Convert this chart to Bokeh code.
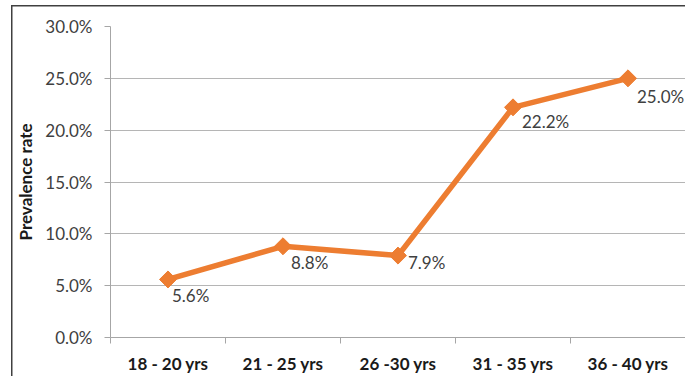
import math
from bokeh.plotting import figure
from bokeh.models import (ColumnDataSource, FixedTicker, PrintfTickFormatter,
                          Range1d, LabelSet)
from bokeh.core.properties import value
from bokeh.embed import file_html
from bokeh.resources import INLINE

# ---- data ----
categories = ["18 - 20 yrs", "21 - 25 yrs", "26 -30 yrs", "31 - 35 yrs", "36 - 40 yrs"]
prevalence = [5.6, 8.8, 7.9, 22.2, 25.0]
y_ticks = [0, 5, 10, 15, 20, 25, 30]

# label placement (style, not data)
label_dx = [4, 8, 10, 9, 9]
label_dy = [-16, -16, -7, -14, -18]

xs = list(range(len(categories)))
src = ColumnDataSource(dict(
    x=xs, y=prevalence,
    txt=["{:.1f}%".format(v) for v in prevalence],
    dx=label_dx, dy=label_dy,
))

p = figure(width=685, height=376, output_backend="svg", toolbar_location=None,
           x_range=Range1d(-0.5, len(categories) - 0.5), y_range=Range1d(0, 30),
           min_border_left=110, min_border_right=0, min_border_top=26,
           min_border_bottom=39)
p.outline_line_color = None
p.background_fill_color = "white"
p.border_fill_color = None
# outer chart frame (left and top edges visible, rest beyond the window)
p.styles = {
    "background": ("linear-gradient(#404040,#404040) 11px 5px / 1.5px 100% no-repeat, "
                   "linear-gradient(#404040,#404040) 11px 5px / 100% 1.5px no-repeat, white"),
}

# grid
p.xgrid.grid_line_color = None
p.ygrid.grid_line_color = "#b5b5b5"
p.ygrid.grid_line_width = 1

# y axis
p.yaxis.ticker = FixedTicker(ticks=y_ticks)
p.yaxis.formatter = PrintfTickFormatter(format="%.1f%%")
p.yaxis.axis_line_color = "#a6a6a6"
p.yaxis.major_tick_line_color = "#a6a6a6"
p.yaxis.major_tick_out = 6
p.yaxis.major_tick_in = 0
p.yaxis.minor_tick_line_color = None
p.yaxis.major_label_standoff = 12
p.yaxis.major_label_text_font = "Lato"
p.yaxis.major_label_text_font_size = "17px"
p.yaxis.major_label_text_color = "#404040"
p.yaxis.axis_label = "Prevalence rate"
p.yaxis.axis_label_text_font = "Lato"
p.yaxis.axis_label_text_font_style = "bold"
p.yaxis.axis_label_text_font_size = "17px"
p.yaxis.axis_label_text_color = "#1a1a1a"
p.yaxis.axis_label_standoff = 6

# x axis: category labels at centers, tick marks at boundaries
p.xaxis.ticker = FixedTicker(ticks=xs, minor_ticks=[i - 0.5 for i in range(len(categories) + 1)])
p.xaxis.major_label_overrides = {i: c for i, c in enumerate(categories)}
p.xaxis.axis_line_color = "#a6a6a6"
p.xaxis.major_tick_line_color = None
p.xaxis.major_tick_out = 0
p.xaxis.major_tick_in = 0
p.xaxis.minor_tick_line_color = "#a6a6a6"
p.xaxis.minor_tick_out = 6
p.xaxis.minor_tick_in = 0
p.xaxis.major_label_standoff = 9
p.xaxis.axis_label_standoff = 0
p.xaxis.major_label_text_font = "Lato"
p.xaxis.major_label_text_font_style = "bold"
p.xaxis.major_label_text_font_size = "17px"
p.xaxis.major_label_text_color = "#1a1a1a"

# line + markers
p.line("x", "y", source=src, line_color="#ED7D31", line_width=5.5)
p.scatter("x", "y", source=src, marker="square", angle=math.pi / 4, size=12,
          fill_color="#ED7D31", line_color="#ED7D31")

labels = LabelSet(x="x", y="y", text="txt", source=src, x_offset="dx", y_offset="dy",
                  text_font=value("Lato"), text_font_size="17px", text_color="#404040",
                  text_baseline="middle", text_align="left")
p.add_layout(labels)

open("out.html", "w").write(file_html(p, INLINE))
